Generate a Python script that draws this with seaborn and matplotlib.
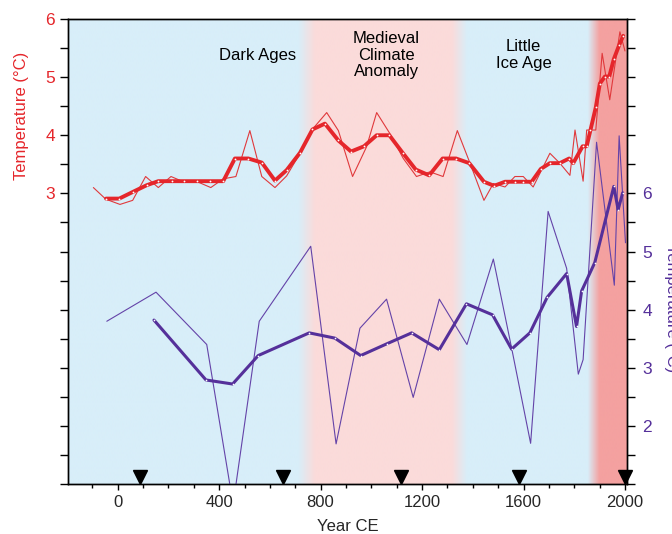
"""
Reconstrucao de temperatura (dois registros) nos ultimos ~2000 anos.

Eixo esquerdo: registro vermelho (bruto + suavizado).
Eixo direito: registro roxo (bruto + suavizado).
Faixas de fundo: Dark Ages, Anomalia Climatica Medieval, Pequena Idade do Gelo
e aquecimento recente.
"""

import numpy as np
import matplotlib
matplotlib.use("Agg")
import matplotlib.pyplot as plt
import matplotlib.transforms as mtransforms
from matplotlib.ticker import MultipleLocator
import seaborn as sns

# ---------------------------------------------------------------------------
# Dados
# ---------------------------------------------------------------------------

red_raw_year = [-96, -47, 9, 59, 110, 160, 210, 259, 314, 367, 416, 466, 521,
                568, 620, 666, 719, 771, 824, 870, 926, 981, 1021, 1073, 1126,
                1178, 1231, 1283, 1339, 1389, 1444, 1481, 1527, 1566, 1599,
                1638, 1704, 1743, 1783, 1803, 1835, 1849, 1885, 1910, 1940,
                1980, 2000]
red_raw_temp = [3.10, 2.90, 2.81, 2.88, 3.29, 3.10, 3.29, 3.20, 3.20, 3.10,
                3.25, 3.29, 4.08, 3.29, 3.10, 3.30, 3.69, 4.12, 4.39, 4.08,
                3.29, 3.80, 4.39, 4.03, 3.60, 3.29, 3.37, 3.29, 4.08, 3.52,
                2.88, 3.17, 3.11, 3.29, 3.29, 3.11, 3.69, 3.52, 3.31, 4.09,
                3.21, 4.09, 4.09, 5.41, 4.61, 5.78, 5.45]

red_smooth_year = [-46, 6, 62, 114, 160, 213, 261, 314, 364, 416, 462, 515,
                   568, 620, 666, 719, 768, 817, 870, 920, 971, 1021, 1071,
                   1123, 1175, 1228, 1281, 1334, 1386, 1444, 1484, 1527, 1566,
                   1599, 1632, 1668, 1704, 1743, 1780, 1796, 1833, 1849, 1864,
                   1885, 1901, 1921, 1938, 1956, 1977, 1993]
red_smooth_temp = [2.91, 2.91, 3.03, 3.14, 3.21, 3.21, 3.21, 3.21, 3.21, 3.21,
                   3.60, 3.60, 3.53, 3.22, 3.40, 3.70, 4.10, 4.20, 3.91, 3.72,
                   3.81, 4.00, 4.00, 3.70, 3.41, 3.31, 3.60, 3.60, 3.52, 3.20,
                   3.13, 3.20, 3.20, 3.20, 3.20, 3.42, 3.52, 3.52, 3.60, 3.52,
                   3.81, 3.81, 4.09, 4.48, 4.89, 5.01, 5.01, 5.31, 5.55, 5.71]

purple_raw_year = [-43, 151, 351, 455, 558, 761, 861, 955, 1060, 1165, 1268,
                   1377, 1481, 1553, 1628, 1697, 1770, 1816, 1835, 1888, 1958,
                   1977, 2002]
purple_raw_temp = [3.80, 4.30, 3.40, 0.65, 3.80, 5.09, 1.69, 3.68, 4.18, 2.49,
                   4.18, 3.40, 4.87, 3.34, 1.70, 5.69, 4.71, 2.89, 3.14, 6.88,
                   4.42, 6.99, 5.15]

purple_smooth_year = [143, 348, 453, 554, 755, 856, 958, 1060, 1159, 1268,
                      1375, 1478, 1553, 1625, 1693, 1770, 1809, 1829, 1881,
                      1956, 1973, 1991]
purple_smooth_temp = [3.82, 2.79, 2.72, 3.21, 3.60, 3.51, 3.21, 3.41, 3.60,
                      3.31, 4.10, 3.91, 3.32, 3.60, 4.21, 4.62, 3.71, 4.32,
                      4.81, 6.12, 5.72, 6.01]

marker_years = [88, 650, 1117, 1582, 2002]

# Periodos (inicio/fim das transicoes de cor do fundo)
period_edges = [-196, 712, 778, 1318, 1378, 1854, 1900, 2008]
period_names = ["Dark Ages", "Medieval\nClimate\nAnomaly", "Little\nIce Age"]
period_label_year = [553, 1060, 1600]

x_ticks = [0, 400, 800, 1200, 1600, 2000]
left_labeled = [3, 4, 5, 6]
right_labeled = [2, 3, 4, 5, 6]

# ---------------------------------------------------------------------------
# Estilo
# ---------------------------------------------------------------------------

RED = "#e5262b"
RED_THIN = "#e0393c"
PURPLE = "#55309a"
PURPLE_THIN = "#6443a8"
BLUE_BG = (216, 238, 249)
PINK_BG = (251, 219, 218)
DARK_BG = (244, 161, 160)

X_MIN, X_MAX = -196, 2008
LEFT_MIN, LEFT_MAX = -2, 6
RIGHT_MIN, RIGHT_MAX = 1, 9

sns.set_style("white")
plt.rcParams["font.family"] = ["Liberation Sans", "DejaVu Sans"]
plt.rcParams["font.size"] = 12

fig = plt.figure(figsize=(6.72, 5.34), dpi=100)
ax = fig.add_axes([68 / 672, 50 / 534, 559 / 672, 465 / 534])

# Fundo com gradiente entre os periodos
anos = np.arange(X_MIN, X_MAX + 1)
stop_colors = np.array([BLUE_BG, BLUE_BG, PINK_BG, PINK_BG,
                        BLUE_BG, BLUE_BG, DARK_BG, DARK_BG]) / 255.0
rgb = np.stack([np.interp(anos, period_edges, stop_colors[:, k])
                for k in range(3)], axis=1)
ax.imshow(rgb[np.newaxis], extent=[X_MIN, X_MAX, LEFT_MIN, LEFT_MAX],
          aspect="auto", interpolation="bilinear", zorder=0)

# Registro vermelho (eixo esquerdo)
sns.lineplot(x=red_raw_year, y=red_raw_temp, ax=ax, color=RED_THIN, lw=0.8,
             sort=False, estimator=None, zorder=2)
sns.lineplot(x=red_smooth_year, y=red_smooth_temp, ax=ax, color=RED, lw=2.8,
             sort=False, estimator=None, zorder=3, marker="o", markersize=1.3,
             markerfacecolor="white", markeredgecolor="white",
             markeredgewidth=0)

ax.set_xlim(X_MIN, X_MAX)
ax.set_ylim(LEFT_MIN, LEFT_MAX)

left_ticks = np.arange(LEFT_MIN, LEFT_MAX + 0.01, 0.5)
ax.set_yticks(left_ticks)
ax.set_yticklabels([f"{v:g}" if v in left_labeled else "" for v in left_ticks])
ax.set_xticks(x_ticks)
ax.xaxis.set_minor_locator(MultipleLocator(100))

ax.tick_params(axis="x", which="major", bottom=True, direction="out",
               length=4.5, width=1, color="black", pad=3.5, labelsize=12)
ax.tick_params(axis="x", which="minor", bottom=True, direction="out",
               length=3, width=1, color="black")
ax.tick_params(axis="y", left=True, direction="out", length=5.5, width=1,
               color="black", labelcolor=RED, pad=4, labelsize=12.5)

for lado in ["left", "right", "top", "bottom"]:
    ax.spines[lado].set_color("black")
    ax.spines[lado].set_linewidth(1)

# Registro roxo (eixo direito)
ax2 = ax.twinx()
sns.lineplot(x=purple_raw_year, y=purple_raw_temp, ax=ax2, color=PURPLE_THIN,
             lw=0.8, sort=False, estimator=None, zorder=2)
sns.lineplot(x=purple_smooth_year, y=purple_smooth_temp, ax=ax2, color=PURPLE,
             lw=2.2, sort=False, estimator=None, zorder=3, marker="o",
             markersize=1.2, markerfacecolor="white",
             markeredgecolor="white", markeredgewidth=0)
ax2.set_ylim(RIGHT_MIN, RIGHT_MAX)
ax2.set_xlim(X_MIN, X_MAX)

right_ticks = np.arange(RIGHT_MIN, RIGHT_MAX + 0.01, 0.5)
ax2.set_yticks(right_ticks)
ax2.set_yticklabels([f"{v:g}" if v in right_labeled else "" for v in right_ticks])
ax2.tick_params(axis="y", right=True, direction="out", length=5.5, width=1,
                color="black", labelcolor=PURPLE, pad=5.5, labelsize=12.5)
ax2.set_ylabel("")
for lado in ["left", "right", "top", "bottom"]:
    ax2.spines[lado].set_color("black")
    ax2.spines[lado].set_linewidth(1)

# Marcadores de datacao (triangulos na base)
trans = mtransforms.blended_transform_factory(ax2.transData, ax2.transAxes)
ax2.plot(marker_years, [0.016] * len(marker_years), transform=trans,
         linestyle="none", marker="v", markersize=10, color="black",
         clip_on=False, zorder=5)

# Nomes dos periodos
for nome, ano in zip(period_names, period_label_year):
    ax.text(ano, 5.38, nome, ha="center", va="center", fontsize=12,
            linespacing=1.15, color="black", zorder=4)

# Rotulos dos eixos
ax.set_ylabel("")
ax.set_xlabel("Year CE", fontsize=12)
ax.xaxis.set_label_coords(0.5, -0.075)
ax.text(-0.083, 0.791, "Temperature (°C)", transform=ax.transAxes,
        rotation=90, ha="center", va="center", color=RED, fontsize=12)
ax.text(1.08, 0.378, "Temperature (°C)", transform=ax.transAxes,
        rotation=270, ha="center", va="center", color=PURPLE, fontsize=12)

fig.savefig("out.png", dpi=100)
